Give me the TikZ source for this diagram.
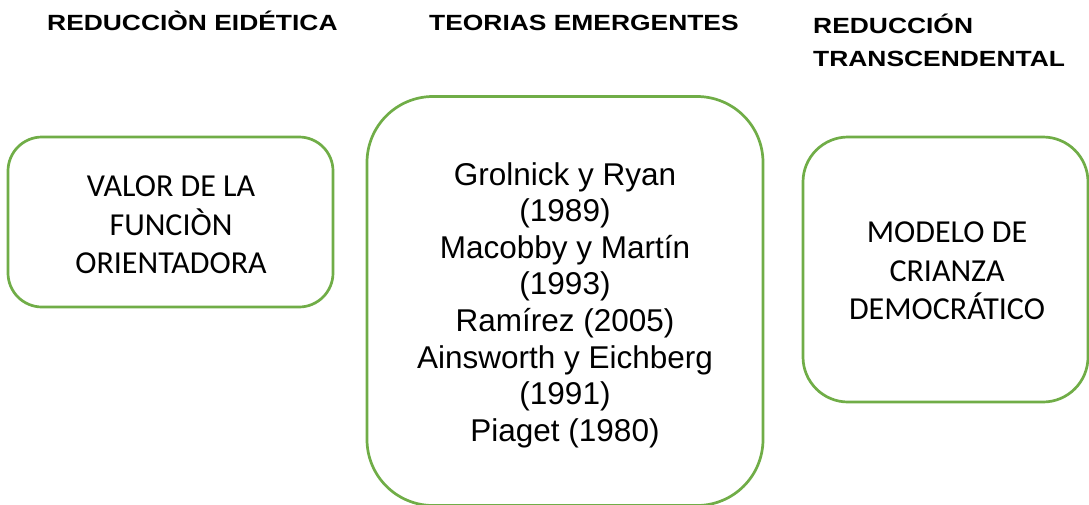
\documentclass[tikz,border=0pt]{standalone}
\usepackage{fontspec}
\setmainfont{Liberation Sans}
\newfontfamily\calib{Carlito}
\newfontfamily\hdrfont[FakeStretch=1.2]{Liberation Sans}
\definecolor{boxgreen}{HTML}{70AD47}
\begin{document}
\begin{tikzpicture}[x=1pt,y=-1pt,
  hdr/.style={font=\hdrfont\bfseries\fontsize{22}{33}\selectfont, anchor=base west, inner sep=0pt},
  gbox/.style={draw=boxgreen, line width=2.7pt, rectangle, inner sep=0pt, outer sep=0pt},
  sidetext/.style={font=\calib\fontsize{32}{38.5}\selectfont, align=center, inner sep=0pt},
  midtext/.style={font=\fontsize{31.5}{36.6}\selectfont, align=center, inner sep=0pt},
]
\useasboundingbox (0,0) rectangle (1089,504);
\clip (0,0) rectangle (1089,504);
\fill[white] (0,0) rectangle (1089,504);

\node[hdr] (h1) at (47,30) {REDUCCIÒN EIDÉTICA};
\node[hdr] (h2) at (429,30) {TEORIAS EMERGENTES};
\node[hdr] (h3a) at (813,33) {REDUCCIÓN};
\node[hdr] (h3b) at (813,66) {TRANSCENDENTAL};

\node[gbox, rounded corners=34pt, minimum width=325pt, minimum height=170pt] (b1) at (170.5,222) {};
\node[gbox, rounded corners=66pt, minimum width=396pt, minimum height=409pt] (b2) at (565,301) {};
\node[gbox, rounded corners=45pt, minimum width=285pt, minimum height=265pt] (b3) at (945.5,269.5) {};

\node[sidetext] (t1) at (171,225) {VALOR DE LA\\FUNCIÒN\\ORIENTADORA};
\node[midtext] (t2) at (565,305) {Grolnick y Ryan\\(1989)\\Macobby y Martín\\(1993)\\Ramírez (2005)\\Ainsworth y Eichberg\\(1991)\\Piaget (1980)};
\node[sidetext] (t3) at (947,271) {MODELO DE\\CRIANZA\\DEMOCRÁTICO};
\end{tikzpicture}
\end{document}
